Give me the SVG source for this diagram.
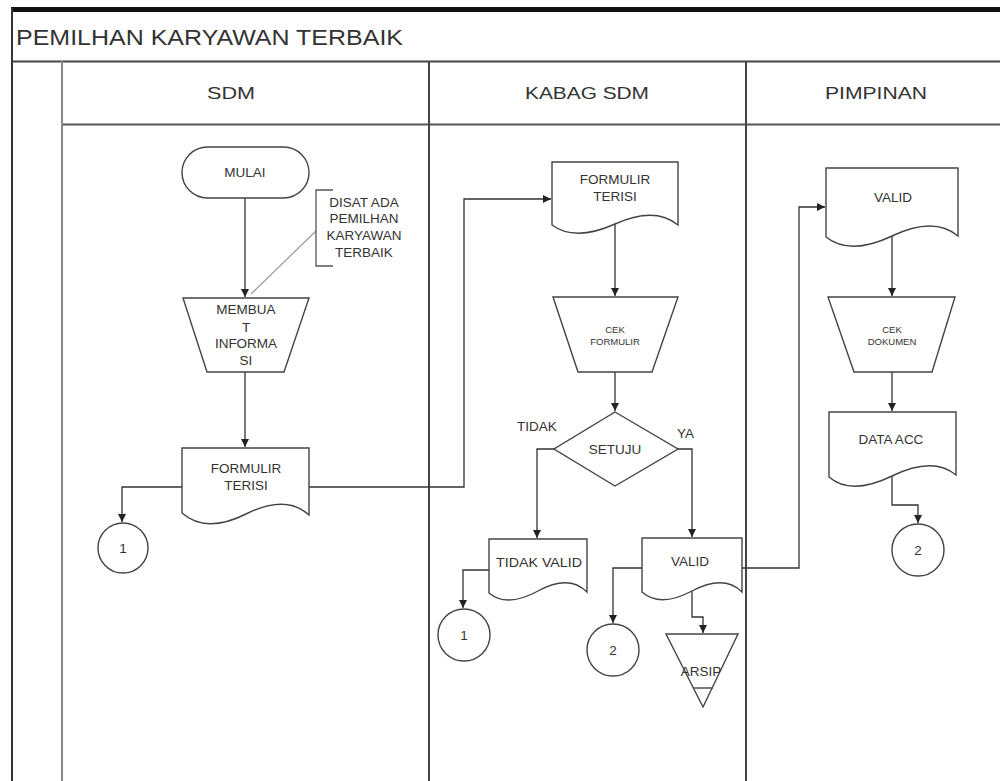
<svg xmlns="http://www.w3.org/2000/svg" width="1000" height="781" viewBox="0 0 1000 781">
  <defs>
    <marker id="arrow" markerUnits="userSpaceOnUse" markerWidth="9" markerHeight="9" refX="8" refY="4" orient="auto">
      <path d="M0,0 L8,4 L0,8 Z" fill="#222"/>
    </marker>
    <style>
      text { font-family: "Liberation Sans", Arial, sans-serif; fill: #333; }
      .shape { fill: #fff; stroke: #444; stroke-width: 1.4; }
      .conn { fill: none; stroke: #333; stroke-width: 1.3; marker-end: url(#arrow); }
      .lbl { font-size: 13.5px; text-anchor: middle; }
      .small { font-size: 9.5px; text-anchor: middle; }
      .head { font-size: 17px; text-anchor: middle; }
    </style>
  </defs>
  <rect width="1000" height="781" fill="#fff"/>

  <!-- pool frame and lanes -->
  <g id="pool">
    <line x1="11" y1="9.5" x2="1000" y2="9.5" stroke="#111" stroke-width="5"/>
    <line x1="12" y1="8" x2="12" y2="781" stroke="#333" stroke-width="2"/>
    <line x1="12" y1="61.5" x2="1000" y2="61.5" stroke="#444" stroke-width="2"/>
    <line x1="62" y1="124.5" x2="1000" y2="124.5" stroke="#555" stroke-width="2"/>
    <line x1="62" y1="61" x2="62" y2="781" stroke="#888" stroke-width="2"/>
    <line x1="429" y1="61" x2="429" y2="781" stroke="#444" stroke-width="2"/>
    <line x1="746" y1="61" x2="746" y2="781" stroke="#444" stroke-width="2"/>
    <text x="16" y="45" font-size="22" textLength="387" lengthAdjust="spacingAndGlyphs">PEMILHAN KARYAWAN TERBAIK</text>
    <text class="head" x="231" y="99" textLength="48" lengthAdjust="spacingAndGlyphs">SDM</text>
    <text class="head" x="587" y="99" textLength="124" lengthAdjust="spacingAndGlyphs">KABAG SDM</text>
    <text class="head" x="876" y="99" textLength="102" lengthAdjust="spacingAndGlyphs">PIMPINAN</text>
  </g>

  <!-- connectors -->
  <g id="connectors">
    <path class="conn" d="M245,198 V297"/>
    <path class="conn" d="M245,372 V447"/>
    <path class="conn" d="M182,487 H122 V522"/>
    <path class="conn" d="M309,487 H464 V199 H551"/>
    <path class="conn" d="M615,224 V296"/>
    <path class="conn" d="M615,372 V411"/>
    <path class="conn" d="M554,449 H537 V538"/>
    <path class="conn" d="M678,449 H692 V537"/>
    <path class="conn" d="M489,570 H463 V608"/>
    <path class="conn" d="M642,568 H613 V623"/>
    <path class="conn" d="M692,591 V617 H703 V633"/>
    <path class="conn" d="M742,568 H799 V207 H825"/>
    <path class="conn" d="M892,236 V296"/>
    <path class="conn" d="M892,372 V411"/>
    <path class="conn" d="M892,476 V505 H918 V523"/>
    <!-- annotation leader -->
    <line x1="316" y1="231" x2="251" y2="294" stroke="#999" stroke-width="1.2"/>
  </g>

  <!-- SDM lane -->
  <g id="mulai">
    <rect class="shape" x="182" y="147" width="127" height="51" rx="25.5"/>
    <text class="lbl" x="245" y="177" font-size="13">MULAI</text>
  </g>
  <g id="note-disat">
    <path d="M333,190 H316 V266 H333" fill="none" stroke="#555" stroke-width="1.3"/>
    <text class="lbl" x="364" y="207">DISAT ADA</text>
    <text class="lbl" x="364" y="223">PEMILHAN</text>
    <text class="lbl" x="364" y="240">KARYAWAN</text>
    <text class="lbl" x="364" y="257">TERBAIK</text>
  </g>
  <g id="membuat-informasi">
    <polygon class="shape" points="183,298 309,298 284,372 207,372"/>
    <text class="lbl" x="246" y="314">MEMBUA</text>
    <text class="lbl" x="246" y="332">T</text>
    <text class="lbl" x="246" y="348">INFORMA</text>
    <text class="lbl" x="246" y="365">SI</text>
  </g>
  <g id="formulir-sdm">
    <path class="shape" d="M182,448 H309 V515 Q286,494 246,514 T182,513 Z"/>
    <text class="lbl" x="246" y="473">FORMULIR</text>
    <text class="lbl" x="246" y="490">TERISI</text>
  </g>
  <g id="conn-1-sdm">
    <circle class="shape" cx="123" cy="548" r="25"/>
    <text class="lbl" x="123" y="553" font-size="13">1</text>
  </g>

  <!-- KABAG SDM lane -->
  <g id="formulir-kabag">
    <path class="shape" d="M552,162 H678 V225 Q655,206 615,224 T552,225 Z"/>
    <text class="lbl" x="615" y="184">FORMULIR</text>
    <text class="lbl" x="615" y="201">TERISI</text>
  </g>
  <g id="cek-formulir">
    <polygon class="shape" points="553,297 678,297 652,372 578,372"/>
    <text class="small" x="615" y="333">CEK</text>
    <text class="small" x="615" y="345">FORMULIR</text>
  </g>
  <g id="setuju">
    <polygon class="shape" points="615,412 678,449 615,486 554,449"/>
    <text class="lbl" x="615" y="454" font-size="14">SETUJU</text>
    <text x="517" y="431" font-size="13.5">TIDAK</text>
    <text x="677" y="438" font-size="13.5">YA</text>
  </g>
  <g id="tidak-valid">
    <path class="shape" d="M489,539 H587 V592 Q569,574 538,591 T489,593 Z"/>
    <text class="lbl" x="539" y="567" textLength="86" lengthAdjust="spacingAndGlyphs">TIDAK VALID</text>
  </g>
  <g id="conn-1-kabag">
    <circle class="shape" cx="464" cy="635" r="26"/>
    <text class="lbl" x="464" y="640" font-size="13">1</text>
  </g>
  <g id="valid-kabag">
    <path class="shape" d="M642,538 H742 V592 Q724,574 692,591 T642,592 Z"/>
    <text class="lbl" x="690" y="566">VALID</text>
  </g>
  <g id="conn-2-kabag">
    <circle class="shape" cx="613" cy="650" r="26"/>
    <text class="lbl" x="613" y="655" font-size="13">2</text>
  </g>
  <g id="arsip">
    <polygon class="shape" points="666,634 738,634 703,707"/>
    <line x1="693" y1="688" x2="713" y2="688" stroke="#444" stroke-width="1.4"/>
    <text class="lbl" x="701" y="676" font-size="14">ARSIP</text>
  </g>

  <!-- PIMPINAN lane -->
  <g id="valid-pimpinan">
    <path class="shape" d="M826,168 H958 V236 Q934,216 892,236 T826,237 Z"/>
    <text class="lbl" x="893" y="202">VALID</text>
  </g>
  <g id="cek-dokumen">
    <polygon class="shape" points="828,297 955,297 932,372 854,372"/>
    <text class="small" x="892" y="333">CEK</text>
    <text class="small" x="892" y="345">DOKUMEN</text>
  </g>
  <g id="data-acc">
    <path class="shape" d="M829,412 H956 V475 Q933,456 892,476 T829,477 Z"/>
    <text class="lbl" x="891" y="444" font-size="14">DATA ACC</text>
  </g>
  <g id="conn-2-pimpinan">
    <circle class="shape" cx="918" cy="550" r="26"/>
    <text class="lbl" x="918" y="555" font-size="13">2</text>
  </g>
</svg>
